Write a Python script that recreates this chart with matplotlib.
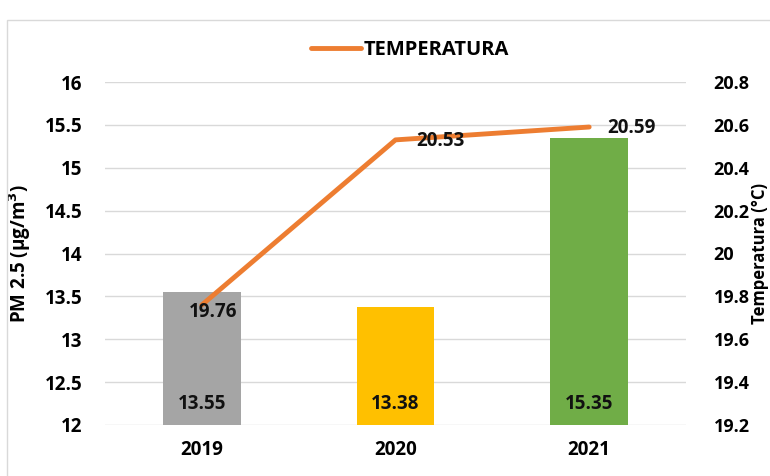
import matplotlib.pyplot as plt
from matplotlib.patches import Rectangle

years = ["2019", "2020", "2021"]
pm25 = [13.55, 13.38, 15.35]
temperatura = [19.76, 20.53, 20.59]
bar_colors = ["#A5A5A5", "#FFC000", "#70AD47"]
left_ticks = [12, 12.5, 13, 13.5, 14, 14.5, 15, 15.5, 16]
right_ticks = [19.2, 19.4, 19.6, 19.8, 20, 20.2, 20.4, 20.6, 20.8]
# label offsets (points) for temperature labels
temp_offsets = [(-9, -5), (15, -1), (13, -1)]

plt.rcParams['font.family'] = ['Open Sans', 'DejaVu Sans']
plt.rcParams['font.weight'] = 'bold'
FS = 13.5

fig = plt.figure(figsize=(7.7, 4.76), dpi=100)
ax = fig.add_axes([105 / 770, 1 - 425 / 476, 581 / 770, 343 / 476])
ax2 = ax.twinx()

x = list(range(len(years)))
ax.bar(x, pm25, width=0.4, color=bar_colors, zorder=2)
for xi, v in zip(x, pm25):
    ax.text(xi, 12.24, f"{v:.2f}", ha='center', va='center', fontsize=FS, fontweight='bold', color='#111111', zorder=3)

ax.set_ylim(12, 16)
ax.set_yticks(left_ticks)
ax.set_yticklabels([f"{t:g}" for t in left_ticks])
ax.set_xlim(-0.5, 2.5)
ax.set_xticks(x)
ax.set_xticklabels(years)
ax.grid(axis='y', color='#D9D9D9', linewidth=1, zorder=0)
ax.set_axisbelow(True)
for s in ax.spines.values():
    s.set_visible(False)
ax.tick_params(length=0, labelsize=FS, pad=16)
ax.tick_params(axis='x', pad=11)
ax.set_ylabel("PM 2.5 (μg/m$^{\\mathbf{3}}$)", fontsize=FS, fontweight='bold')
ax.yaxis.set_label_coords(-0.124, 0.5)

ax2.plot(x, temperatura, color='#ED7D31', linewidth=3.5, solid_capstyle='round', label='TEMPERATURA', zorder=4)
for xi, v, off in zip(x, temperatura, temp_offsets):
    ax2.annotate(f"{v:.2f}", (xi, v), xytext=off, textcoords='offset points', zorder=6,
                 ha='left', va='center', fontsize=FS, fontweight='bold', color='#111111')
ax2.set_ylim(19.2, 20.8)
ax2.set_yticks(right_ticks)
ax2.set_yticklabels([f"{t:g}" for t in right_ticks])
for s in ax2.spines.values():
    s.set_visible(False)
ax2.tick_params(length=0, labelsize=13, pad=20)
ax2.set_ylabel("Temperatura (°C)", fontsize=12, fontweight='bold')
ax2.yaxis.set_label_coords(1.112, 0.5)

ax2.legend(loc='upper center', bbox_to_anchor=(0.525, 1.175), frameon=False,
           handlelength=2.5, handletextpad=0.15, prop={'weight': 'bold', 'size': 14.5})

fig.patches.append(Rectangle((7 / 770, -0.1), 1.0, 1 - 20 / 476 + 0.1, transform=fig.transFigure,
                             fill=False, edgecolor='#D9D9D9', linewidth=1))

fig.savefig("out.png", dpi=100)
